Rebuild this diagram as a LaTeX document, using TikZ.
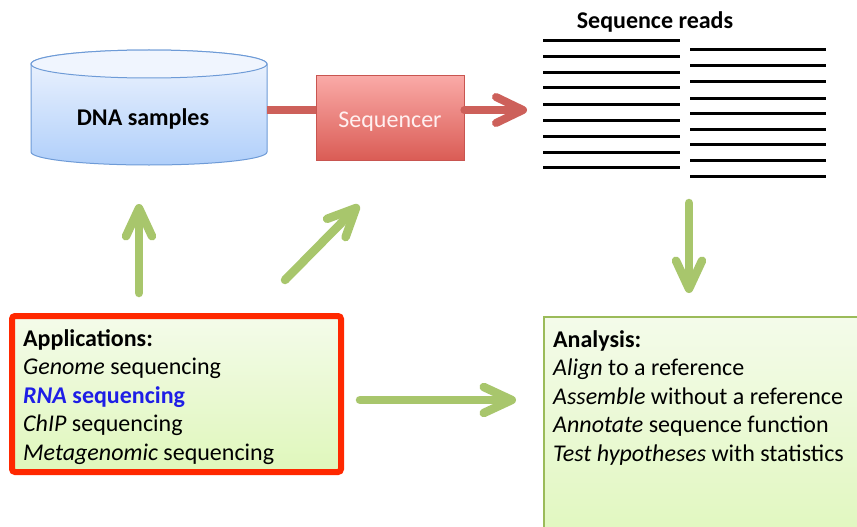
\documentclass[tikz,border=0pt]{standalone}
\usepackage{fontspec}
\setmainfont{Carlito}
\usetikzlibrary{arrows.meta}
\definecolor{grn}{RGB}{168,198,108}
\definecolor{redarr}{RGB}{205,96,90}
\definecolor{seqtop}{RGB}{250,170,167}
\definecolor{seqbot}{RGB}{218,92,85}
\definecolor{seqline}{RGB}{200,85,80}
\definecolor{cyltop}{RGB}{240,245,254}
\definecolor{cylbot}{RGB}{176,207,250}
\definecolor{cylline}{RGB}{110,155,215}
\definecolor{boxtop}{RGB}{244,251,234}
\definecolor{boxbot}{RGB}{223,247,187}
\definecolor{boxline}{RGB}{155,187,89}
\definecolor{appred}{RGB}{255,40,0}
\definecolor{rnablue}{RGB}{30,30,230}
\definecolor{seqtext}{RGB}{255,240,240}
\tikzset{
  txt/.style={font=\fontsize{24}{28.5}\selectfont},
  garrow/.style={draw=grn, line width=8.5pt, line cap=round,
    -{Straight Barb[round, length=28pt, width=26pt]}},
  rline/.style={draw=redarr, line width=8pt},
  rarrow/.style={draw=redarr, line width=8pt, line cap=round,
    -{Straight Barb[round, length=27pt, width=26pt]}},
  readline/.style={draw=black, line width=3pt},
  seqbox/.style={draw=seqline, line width=0.8pt, top color=seqtop, bottom color=seqbot,
    minimum width=148pt, minimum height=85pt, inner sep=0pt,
    text height=19pt, text depth=0pt,
    font=\fontsize{24}{28}\selectfont, text=seqtext},
  appbox/.style={draw=appred, line width=6pt, rounded corners=3pt,
    top color=boxtop, bottom color=boxbot, minimum width=329pt, minimum height=156pt, inner sep=0pt},
  anabox/.style={draw=boxline, line width=1.5pt, top color=boxtop, bottom color=boxbot,
    minimum width=340pt, minimum height=240pt, inner sep=0pt, anchor=north west},
  boxtext/.style={txt, anchor=north west, align=left, inner sep=0pt},
}
\begin{document}
\begin{tikzpicture}[x=1pt,y=-1pt]
\useasboundingbox (0,0) rectangle (857,527);
\clip (0,0) rectangle (857,527);
\fill[white] (0,0) rectangle (857,527);

% DNA samples cylinder
\path[draw=cylline, line width=1pt, top color=cyltop, bottom color=cylbot]
  (31,64) -- (31,152) arc[start angle=180, end angle=360, x radius=118pt, y radius=13pt]
  -- (267,64) arc[start angle=0, end angle=180, x radius=118pt, y radius=14pt] -- cycle;
\path[draw=cylline, line width=1pt, fill=cyltop] (149,64) ellipse[x radius=118pt, y radius=14pt];
\node[font=\fontsize{24}{28}\selectfont\bfseries] (dna) at (143,119) {DNA samples};
\coordinate (dnaE) at (267,110);

% Sequencer
\node[seqbox] (seq) at (390,118) {Sequencer};
\coordinate (readsIn) at (527,110);
\draw[rline] (dnaE) -- (dnaE -| seq.west);
\draw[rarrow] (seq.east |- dnaE) -- (readsIn);

% Sequence reads
\node[font=\fontsize{24}{28}\selectfont\bfseries] (reads) at (655,22) {Sequence reads};
\foreach \y in {41,57,73,88,104,120,136,152,167}
  \draw[readline] (543,\y) -- (680,\y);
\foreach \y in {50,66,82,98,113,129,144,160,176}
  \draw[readline] (690,\y) -- (826,\y);

% Applications box
\node[appbox] (apps) at (176.5,394) {};
\node[boxtext] (appsT) at (23,329) {\textbf{Applications:}\\
  \textit{Genome} sequencing\\
  \textcolor{rnablue}{\textbf{\textit{RNA} sequencing}}\\
  \textit{ChIP} sequencing\\
  \textit{Metagenomic} sequencing};

% Analysis box
\node[anabox] (ana) at (543,316) {};
\node[boxtext] (anaT) at (553,330) {\textbf{Analysis:}\\
  \textit{Align} to a reference\\
  \textit{Assemble} without a reference\\
  \textit{Annotate} sequence function\\
  \textit{Test hypotheses} with statistics};

% green arrows
\coordinate (upS) at (139,293);
\coordinate (upE) at (139,204);
\coordinate (diS) at (285,280);
\coordinate (diE) at (359,205);
\coordinate (dnS) at (689,203);
\coordinate (dnE) at (689,293);
\coordinate (hS) at (360,400);
\coordinate (hE) at (516,400);
\draw[garrow] (upS) -- (upE);
\draw[garrow] (diS) -- (diE);
\draw[garrow] (dnS) -- (dnE);
\draw[garrow] (hS) -- (hE);
\end{tikzpicture}
\end{document}
